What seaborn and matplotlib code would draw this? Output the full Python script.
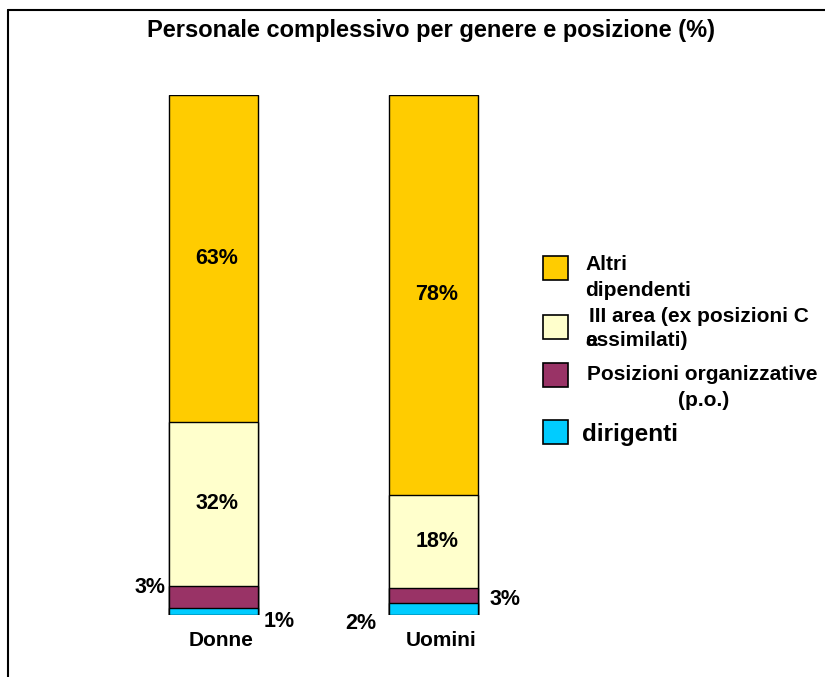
import pandas as pd
import seaborn as sns
import matplotlib.pyplot as plt
from matplotlib.patches import Rectangle
from matplotlib.lines import Line2D

# Data (shares, %)
generi = ['Donne', 'Uomini']
dirigenti = [1.4, 2.3]
posizioni_org = [4.2, 2.8]
terza_area = [31.5, 18.0]
altri_dipendenti = [62.9, 76.9]

# printed labels as they appear on the chart
lab_dirigenti = ['1%', '2%']
lab_po = ['3%', '3%']
lab_terza = ['32%', '18%']
lab_altri = ['63%', '78%']

colors = {'dirigenti': '#00CCFF', 'po': '#993366', 'terza': '#FFFFCC', 'altri': '#FFCC00'}

df = pd.DataFrame({'genere': generi, 'dirigenti': dirigenti, 'po': posizioni_org,
                   'terza': terza_area, 'altri': altri_dipendenti})
df['c_dir'] = df['dirigenti']
df['c_po'] = df['c_dir'] + df['po']
df['c_terza'] = df['c_po'] + df['terza']
df['c_altri'] = df['c_terza'] + df['altri']

sns.set_style('white')
plt.rcParams['font.family'] = ['Liberation Sans', 'DejaVu Sans']
plt.rcParams['text.color'] = 'black'

fig = plt.figure(figsize=(8.25, 6.77), dpi=100)
ax = fig.add_axes([103.5 / 825, 62 / 677, 440 / 825, 520 / 677])

# stacked bars: draw cumulative totals from the top segment down
for col, key in [('c_altri', 'altri'), ('c_terza', 'terza'), ('c_po', 'po'), ('c_dir', 'dirigenti')]:
    sns.barplot(data=df, x='genere', y=col, color=colors[key], width=0.405,
                edgecolor='black', linewidth=1.0, saturation=1, ax=ax)

ax.set_xlim(-0.5, 1.5)
ax.set_ylim(0, 100)
ax.set_xlabel('')
ax.set_ylabel('')
ax.set_xticks([])
ax.set_yticks([])
sns.despine(ax=ax, left=True, bottom=True)
ax.patch.set_alpha(0)

fs = 15.5
kw = dict(fontsize=fs, fontweight='bold', ha='center', va='center', clip_on=False)

# labels inside the bars
for i in range(2):
    ax.text(i + 0.016, df['c_terza'][i] + df['altri'][i] / 2, lab_altri[i], **kw)
    ax.text(i + 0.016, df['c_po'][i] + df['terza'][i] / 2, lab_terza[i], **kw)

# small segments, labels outside
ax.text(0 - 0.29, 5.2, lab_po[0], **kw)
ax.text(0 + 0.30, -1.2, lab_dirigenti[0], **kw)
ax.text(1 - 0.33, -1.7, lab_dirigenti[1], **kw)
ax.text(1 + 0.325, 2.9, lab_po[1], **kw)

# category names
for i, g in enumerate(generi):
    ax.text(i + 0.035, -5.0, g, fontsize=15, fontweight='bold', ha='center', va='center',
            clip_on=False)

fig.text(431 / 825, 1 - 31 / 677, 'Personale complessivo per genere e posizione (%)',
         fontsize=17, fontweight='bold', ha='center', va='center')

# legend drawn by hand
leg = [(256, colors['altri']), (315, colors['terza']), (363, colors['po']), (420, colors['dirigenti'])]
for top, c in leg:
    fig.add_artist(Rectangle((543 / 825, 1 - (top + 24) / 677), 25 / 825, 24 / 677,
                             transform=fig.transFigure, facecolor=c, edgecolor='black', linewidth=1.2))

tk = dict(fontsize=15, fontweight='bold', va='center')
fig.text(585 / 825, 1 - 264 / 677, 'Altri', ha='left', **tk)
fig.text(585 / 825, 1 - 290 / 677, 'dipendenti', ha='left', **tk)
fig.text(589 / 825, 1 - 316 / 677, 'III area (ex posizioni C', ha='left', **tk)
fig.text(585 / 825, 1 - 341 / 677, 'assimilati)', ha='left', **tk)
fig.text(585 / 825, 1 - 341 / 677, 'e', ha='left', **tk)
fig.text(587 / 825, 1 - 374 / 677, 'Posizioni organizzative', ha='left', **tk)
fig.text(704 / 825, 1 - 400 / 677, '(p.o.)', ha='center', **tk)
fig.text(582 / 825, 1 - 434 / 677, 'dirigenti', ha='left', fontsize=17.5, fontweight='bold', va='center')

# frame lines (top and left)
fig.add_artist(Line2D([8 / 825, 1], [1 - 10 / 677, 1 - 10 / 677], color='black', linewidth=1.5,
                      transform=fig.transFigure))
fig.add_artist(Line2D([8 / 825, 8 / 825], [0, 1 - 10 / 677], color='black', linewidth=1.5,
                      transform=fig.transFigure))

fig.savefig('out.png', dpi=100)
